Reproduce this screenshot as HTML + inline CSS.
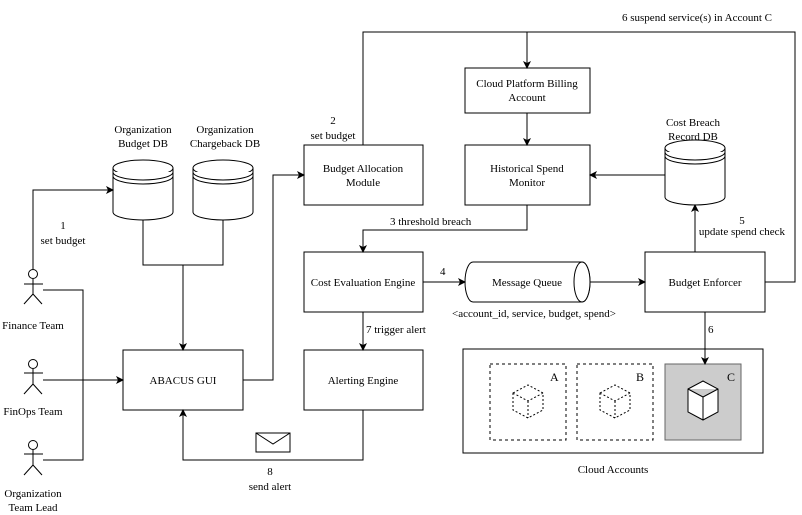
<!DOCTYPE html>
<html><head><meta charset="utf-8"><style>body{margin:0;background:#fff}svg{display:block}text{font-family:"Liberation Serif",serif;font-size:11px;fill:#000}</style></head><body>
<svg width="802" height="515" viewBox="0 0 802 515" xmlns="http://www.w3.org/2000/svg">
<defs><marker id="a" markerWidth="8" markerHeight="8" refX="7" refY="4" orient="auto" markerUnits="userSpaceOnUse"><path d="M0,0 L8,4 L0,8 L2,4 Z" fill="#000"/></marker></defs>
<g fill="none" stroke="#000" stroke-width="1">
<rect x="465" y="68" width="125" height="45" fill="#fff"/>
<rect x="304" y="145" width="119" height="60"/>
<rect x="465" y="145" width="125" height="60"/>
<rect x="304" y="252" width="119" height="60"/>
<rect x="645" y="252" width="120" height="60"/>
<rect x="304" y="350" width="119" height="60"/>
<rect x="123" y="350" width="120" height="60"/>
<rect x="463" y="349" width="300" height="104"/>
<rect x="490" y="364" width="76" height="76" stroke-dasharray="3,3"/>
<rect x="577" y="364" width="76" height="76" stroke-dasharray="3,3"/>
<rect x="665" y="364" width="76" height="76" fill="#ccc" stroke="#666"/>
<!-- cubes -->
<g stroke-dasharray="2,2"><path d="M513,393 L528,385 L543,393 L543,410 L528,418 L513,410 Z M513,393 L528,401 L543,393 M528,401 L528,418"/>
<path d="M600,393 L615,385 L630,393 L630,410 L615,418 L600,410 Z M600,393 L615,401 L630,393 M615,401 L615,418"/></g>
<path d="M688,389 L703,381 L718,389 L718,412 L703,420 L688,412 Z M688,389 L703,397 L718,389 M703,397 L703,420" fill="#fff"/>
<!-- DBs -->
<g fill="#fff">
<path d="M113,168 L113,212 A30,8 0 0 0 173,212 L173,168"/><ellipse cx="143" cy="168" rx="30" ry="8"/><path d="M113,172 A30,8 0 0 0 173,172 M113,176 A30,8 0 0 0 173,176"/>
<path d="M193,168 L193,212 A30,8 0 0 0 253,212 L253,168"/><ellipse cx="223" cy="168" rx="30" ry="8"/><path d="M193,172 A30,8 0 0 0 253,172 M193,176 A30,8 0 0 0 253,176"/>
<path d="M665,148 L665,197 A30,8 0 0 0 725,197 L725,148"/><ellipse cx="695" cy="148" rx="30" ry="8"/><path d="M665,152 A30,8 0 0 0 725,152 M665,156 A30,8 0 0 0 725,156"/>
<!-- MQ -->
<path d="M473,262 L582,262 A8,20 0 0 1 582,302 L473,302 A8,20 0 0 1 473,262"/><ellipse cx="582" cy="282" rx="8" ry="20"/>
</g>
<!-- actors -->
<g><circle cx="33" cy="274" r="4.5"/><path d="M33,279 L33,294 M24,284 L43,284 M33,294 L24,304 M33,294 L42,304"/>
<circle cx="33" cy="364" r="4.5"/><path d="M33,369 L33,384 M24,373 L43,373 M33,384 L24,394 M33,384 L42,394"/>
<circle cx="33" cy="445" r="4.5"/><path d="M33,450 L33,465 M24,454 L43,454 M33,465 L24,475 M33,465 L42,475"/></g>
<!-- lines -->
<path d="M33,269 L33,190 L113,190" marker-end="url(#a)"/>
<path d="M143,220 L143,265 L223,265 L223,220 M183,265 L183,350" marker-end="url(#a)"/>
<path d="M43,290 L83,290 L83,460 L43,460"/>
<path d="M43,380 L123,380" marker-end="url(#a)"/>
<path d="M243,380 L273,380 L273,175 L304,175" marker-end="url(#a)"/>
<path d="M363,145 L363,32 L795,32 L795,282 L765,282"/>
<path d="M527,32 L527,68" marker-end="url(#a)"/>
<path d="M527,113 L527,145" marker-end="url(#a)"/>
<path d="M665,175 L590,175" marker-end="url(#a)"/>
<path d="M527,205 L527,230 L363,230 L363,252" marker-end="url(#a)"/>
<path d="M423,282 L465,282" marker-end="url(#a)"/>
<path d="M590,282 L645,282" marker-end="url(#a)"/>
<path d="M695,252 L695,205" marker-end="url(#a)"/>
<path d="M705,312 L705,364" marker-end="url(#a)"/>
<path d="M363,312 L363,350" marker-end="url(#a)"/>
<path d="M363,410 L363,460 L183,460 L183,410" marker-end="url(#a)"/>
<rect x="256" y="433" width="34" height="19" fill="#fff"/><path d="M256,433 L273,444 L290,433"/>
</g>
<g text-anchor="middle">
<text x="527" y="87">Cloud Platform Billing</text><text x="527" y="101">Account</text>
<text x="363" y="172">Budget Allocation</text><text x="363" y="186">Module</text>
<text x="527" y="172">Historical Spend</text><text x="527" y="186">Monitor</text>
<text x="363" y="286">Cost Evaluation Engine</text>
<text x="527" y="286">Message Queue</text>
<text x="705" y="286">Budget Enforcer</text>
<text x="363" y="384">Alerting Engine</text>
<text x="183" y="384">ABACUS GUI</text>
<text x="613" y="473">Cloud Accounts</text>
<text x="143" y="133">Organization</text><text x="143" y="147">Budget DB</text>
<text x="225" y="133">Organization</text><text x="225" y="147">Chargeback DB</text>
<text x="693" y="126">Cost Breach</text><text x="693" y="140">Record DB</text>
<text x="63" y="229">1</text><text x="63" y="244">set budget</text>
<text x="333" y="124">2</text><text x="333" y="139">set budget</text>
<text x="534" y="317">&lt;account_id, service, budget, spend&gt;</text>
<text x="270" y="475">8</text><text x="270" y="490">send alert</text>
<text x="33" y="329">Finance Team</text><text x="33" y="415">FinOps Team</text>
<text x="33" y="497">Organization</text><text x="33" y="511">Team Lead</text>
<text x="742" y="224">5</text><text x="742" y="235">update spend check</text>
</g>
<text x="390" y="225">3  threshold breach</text>
<text x="440" y="275">4</text>
<text x="366" y="333">7  trigger alert</text>
<text x="708" y="333">6</text>
<text x="622" y="21">6  suspend service(s) in Account C</text>
<text x="550" y="381" style="font-size:12px">A</text>
<text x="636" y="381" style="font-size:12px">B</text>
<text x="727" y="381" style="font-size:12px">C</text>
</svg>
</body></html>
